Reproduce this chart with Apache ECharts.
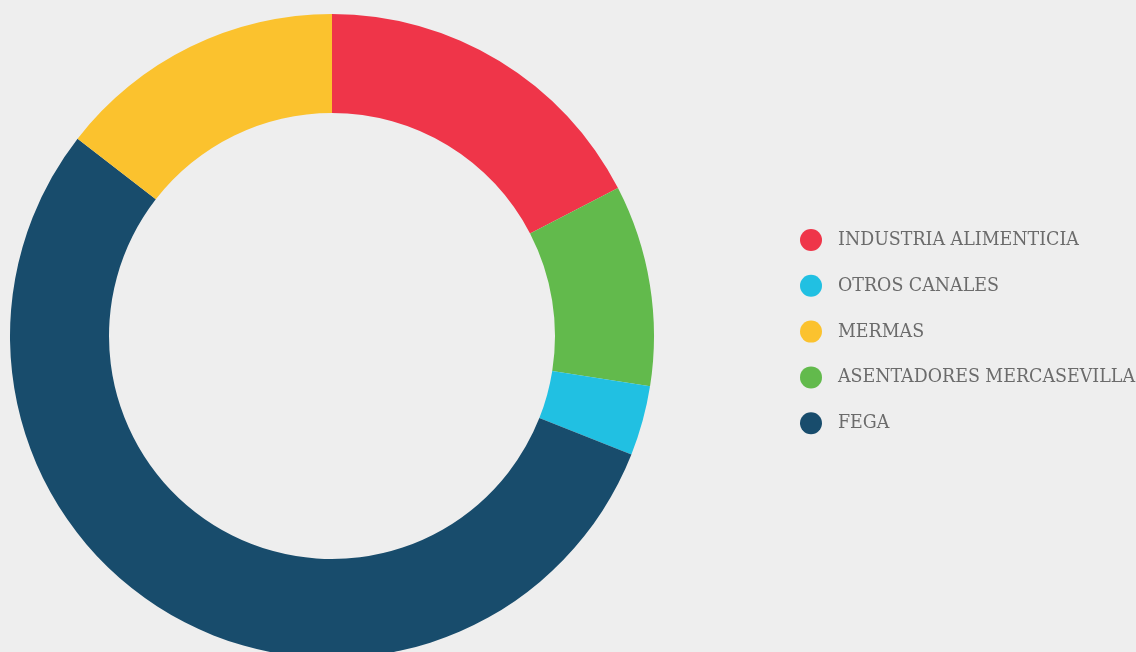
<!DOCTYPE html>
<html><head><meta charset="utf-8">
<script src="https://cdn.jsdelivr.net/npm/echarts@6/dist/echarts.min.js"></script>
<style>html,body{margin:0;padding:0;background:#eeeeee;}#c{width:1136px;height:652px;}</style>
</head><body><div id="c"></div>
<script>
// Slices in clockwise order (percent)
const categories = ['INDUSTRIA ALIMENTICIA','ASENTADORES MERCASEVILLA','OTROS CANALES','FEGA','MERMAS'];
const values = [17.4, 10.1, 3.5, 54.5, 14.5];
const colors = ['#EF3549','#62BA4C','#21C0E2','#184C6C','#FBC22E'];
const legendOrder = ['INDUSTRIA ALIMENTICIA','OTROS CANALES','MERMAS','ASENTADORES MERCASEVILLA','FEGA'];

const chart = echarts.init(document.getElementById('c'));
chart.setOption({
  backgroundColor: '#eeeeee',
  animation: false,
  legend: {
    orient: 'vertical',
    left: 800, top: 228,
    padding: 0,
    data: legendOrder,
    icon: 'circle',
    itemWidth: 22, itemHeight: 22,
    itemGap: 21.8,
    textStyle: {fontFamily: 'DejaVu Serif Condensed', fontSize: 19.4, lineHeight: 22, color: '#6b6b6b', padding:[2,0,0,11]}
  },
  series: [{
    type: 'pie',
    center: [332, 336],
    radius: [223, 322],
    startAngle: 90,
    clockwise: true,
    label: {show: false},
    labelLine: {show: false},
    data: categories.map((c,i)=>({name:c, value:values[i], itemStyle:{color:colors[i]}}))
  }]
});
</script></body></html>
